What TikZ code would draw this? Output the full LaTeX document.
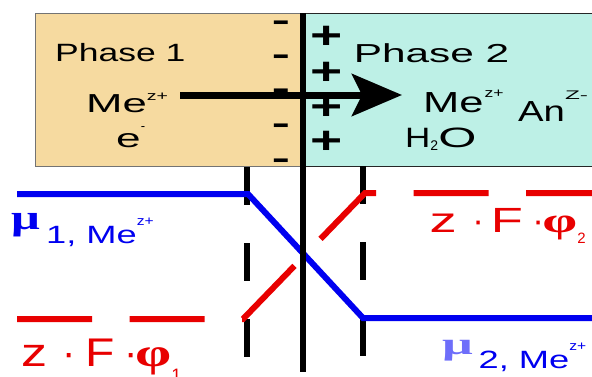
\documentclass[tikz,border=0pt]{standalone}
\usepackage{fontspec}
\setmainfont{Liberation Sans}
\newfontfamily\serifgreek{Liberation Serif}
\usetikzlibrary{arrows.meta}
\newcommand\sx[2]{\scalebox{#1}[1]{#2}}
\newcommand\fs[1]{\fontsize{#1}{#1}\selectfont}
\definecolor{tanfill}{RGB}{246,218,160}
\definecolor{aquafill}{RGB}{189,240,230}
\definecolor{myblue}{RGB}{0,0,240}
\definecolor{lightmu}{RGB}{110,110,250}
\definecolor{myred}{RGB}{232,0,0}
\begin{document}
\begin{tikzpicture}[x=1pt,y=-1pt,
  txt/.style={inner sep=0pt, anchor=base west},
  phasebox/.style={draw, line width=0.8pt, anchor=north west, inner sep=0pt, minimum height=153pt},
  minussign/.style={inner sep=0pt, anchor=base, font=\bfseries\fs{28}},
  plussign/.style={inner sep=0pt, anchor=base, font=\bfseries\fs{38}},
  barrier/.style={line width=6.5pt, dash pattern=on 38pt off 38pt},
  level/.style={line width=6pt},
  flow/.style={line width=7pt, -{Stealth[length=50pt, width=42pt, inset=10pt]}}]
\useasboundingbox (0,0) rectangle (592,376);
\fill[white] (0,0) rectangle (592,376);

% phases
\node[phasebox, fill=tanfill, draw=black!55, minimum width=268pt] (ph1) at (35,13) {};
\node[phasebox, fill=aquafill, draw=black!85, minimum width=300pt] (ph2) at (303,13) {};

% charges
\foreach \y [count=\i] in {23,57,91,126,161}
  \node[minussign] (mn\i) at (281.5,\y+9) {\scalebox{1}[1.3]{–}};
\foreach \y [count=\i] in {35,71,106,140}
  \node[plussign] (pl\i) at (327,\y+13.3) {\sx{1.45}{+}};

% texts in phases
\node[txt, font=\fs{25}] (t1) at (55,61) {\sx{1.42}{Phase 1}};
\node[txt, font=\fs{26}] (t2) at (353.6,62) {\sx{1.63}{Phase 2}};
\node[txt, font=\fs{26}] (me1) at (86,112) {\sx{1.68}{Me}\raisebox{12pt}{\fs{13}\sx{1.5}{z+}}};
\node[txt, font=\fs{26}] (e1) at (116,147) {\sx{1.7}{e}\raisebox{16.5pt}{\fs{13}-}};
\node[txt, font=\fs{29}] (me2) at (423,112) {\sx{1.5}{Me}\hspace{1pt}\raisebox{15pt}{\fs{13}\sx{1.35}{z+}}};
\node[txt, font=\fs{29}] (an) at (518,121) {\sx{1.32}{An}\raisebox{22pt}{\fs{12.5}\sx{1.95}{Z-}}};
\node[txt, font=\fs{28}] (h2o) at (405,147) {\sx{1.25}{H}\raisebox{-3pt}{\fs{14}2}\sx{1.75}{O}};

% transfer arrow
\coordinate (a0) at (180,95);
\coordinate (a1) at (402,95);
\draw[flow] (a0) -- (a1);

% interface boundaries
\draw[barrier] (247,167) -- (247,360);
\draw[barrier] (363,166) -- (363,360);

% potential levels
\draw[level, myblue] (17,194) -- (248,194) -- (363,318) -- (592,318);
\draw[level, myred, dash pattern=on 75pt off 37.5pt] (17,319) -- (243,319) -- (365,193) -- (600,193);

\draw[line width=6.5pt] (303,13) -- (303,372);

% lower labels
\node[txt, font=\serifgreek\bfseries\fs{35}, text=myblue] (mu1) at (11,229) {\sx{1.45}{μ}};
\node[txt, font=\fs{25}, text=myblue] (mu1sub) at (46,243) {\sx{1.45}{1, Me}\raisebox{18pt}{\fs{13}\sx{1.2}{z+}}};
\node[txt, font=\serifgreek\bfseries\fs{31}, text=lightmu] (mu2) at (442,354) {\sx{1.75}{μ}};
\node[txt, font=\fs{25}, text=myblue] (mu2sub) at (478.5,368) {\sx{1.45}{2, Me}\raisebox{18pt}{\fs{13}\sx{1.2}{z+}}};

\node[txt, font=\fs{40}, text=myred] (zf1) at (21,366) {\sx{1.3}{z}\hspace{15.5pt}·\hspace{9.5pt}\sx{1.2}{F}\hspace{10pt}·\hspace{-3pt}{\serifgreek\bfseries\sx{1.45}{φ}}\raisebox{-15pt}{\fs{18}1}};
\node[txt, font=\fs{35}, text=myred] (zf2) at (429.5,232) {\sx{1.55}{z}\hspace{15.5pt}·\hspace{7pt}\sx{1.5}{F}\hspace{9.2pt}·\hspace{-1.5pt}{\serifgreek\bfseries\sx{1.6}{φ}}\raisebox{-11pt}{\fs{15}2}};
\end{tikzpicture}
\end{document}
